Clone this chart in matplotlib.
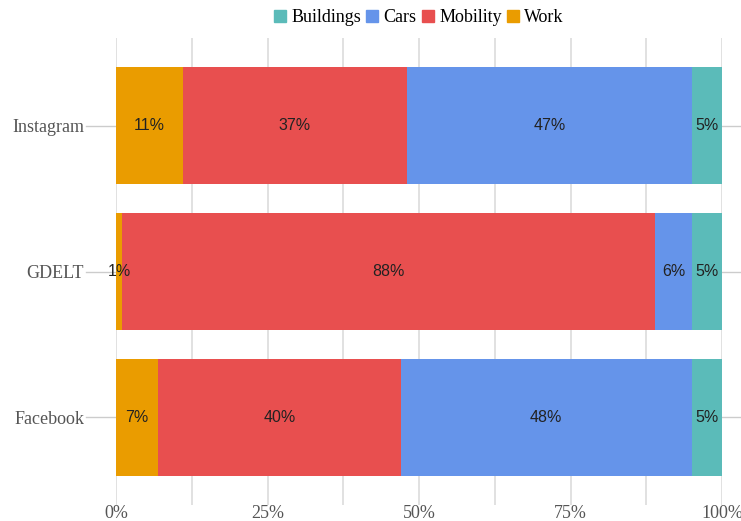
import numpy as np
import matplotlib.pyplot as plt
from matplotlib.patches import Patch

# categories bottom -> top
sources = ['Facebook', 'GDELT', 'Instagram']
work = [7, 1, 11]
mobility = [40, 88, 37]
cars = [48, 6, 47]
buildings = [5, 5, 5]

series = [('Work', work, '#ea9c00'),
          ('Mobility', mobility, '#e84f4f'),
          ('Cars', cars, '#6594ea'),
          ('Buildings', buildings, '#5bbbb9')]

fig = plt.figure(figsize=(7.41, 5.21), dpi=100)
ax = fig.add_axes([116 / 741, 16 / 521, 606 / 741, 467 / 521])

y = np.arange(len(sources))
left = np.zeros(len(sources))
for name, vals, col in series:
    vals = np.array(vals, dtype=float)
    ax.barh(y, vals, left=left, height=0.8, color=col, zorder=2)
    for yi, l, v in zip(y, left, vals):
        ax.text(l + v / 2, yi, f'{v:.0f}%', ha='center', va='center',
                fontsize=11.5, color='#222222', family='Liberation Sans', zorder=3)
    left += vals

# vertical grid every 12.5%
for gx in np.arange(0, 100.1, 12.5):
    ax.axvline(gx, color='#dcdcdc', lw=1.2, zorder=0)
# category lines through each bar
for yi in y:
    ax.plot([-5, 103.2], [yi, yi], color='#cccccc', lw=1, zorder=1, clip_on=False)

ax.set_xlim(0, 100)
ax.set_ylim(-0.6, 2.6)
ax.set_xticks([0, 25, 50, 75, 100])
ax.set_xticklabels(['0%', '25%', '50%', '75%', '100%'])
ax.set_yticks(y)
ax.set_yticklabels(sources)
for lab in ax.get_xticklabels() + ax.get_yticklabels():
    lab.set_family('Liberation Serif')
    lab.set_fontsize(13)
    lab.set_color('#555555')
ax.tick_params(length=0)
ax.tick_params(axis='y', pad=23)
ax.tick_params(axis='x', pad=0)
for s in ax.spines.values():
    s.set_visible(False)

handles = [Patch(color=c, label=n) for n, _, c in series[::-1]]
fig.legend(handles=handles, loc='center', bbox_to_anchor=(419 / 741, 1 - 18 / 521),
           ncol=4, frameon=False, handlelength=0.65, handleheight=0.65,
           handletextpad=0.3, columnspacing=0.3,
           prop={'family': 'Liberation Serif', 'size': 13})

fig.savefig('out.png', dpi=100)
